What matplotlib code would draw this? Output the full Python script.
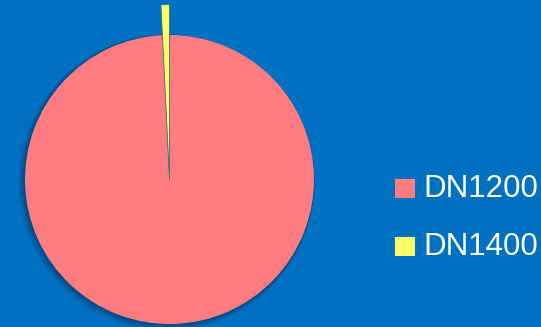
import matplotlib
matplotlib.use("Agg")
import matplotlib.pyplot as plt
from matplotlib import font_manager
from matplotlib.patches import Circle, Rectangle

# pipe length share by nominal diameter
labels = ["DN1200", "DN1400"]
values = [99.22, 0.78]
colors = ["#FF7C80", "#FFFF66"]
bg = "#0070C0"

# narrow sans if available, otherwise regular Liberation Sans a bit smaller
names = {f.name for f in font_manager.fontManager.ttflist}
if "Liberation Sans Narrow" in names:
    fam, fsize = "Liberation Sans Narrow", 26
else:
    fam, fsize = "Liberation Sans", 22.5

W, H = 541, 327
fig = plt.figure(figsize=(W / 100, H / 100), dpi=100)
fig.patch.set_facecolor(bg)

# pie centre and radius in pixels
cx, cy, r = 169.5, H - 179.5, 144.5
half = 1.25 * r
ax = fig.add_axes([(cx - half) / W, (cy - half) / H, 2 * half / W, 2 * half / H])
ax.set_aspect("equal")
ax.axis("off")

# soft shadow around the pie
for i in range(1, 6):
    ax.add_patch(Circle((-0.004 * i, -0.004 * i), 1 + 0.005 * i, color="#002850",
                        alpha=0.12, lw=0, zorder=0))

wedges, _ = ax.pie(values, colors=colors, startangle=90, counterclock=False,
                   radius=1.0, wedgeprops=dict(linewidth=0))
for w in wedges:
    w.set_zorder(2)
# small slice sticks out past the rim
wedges[1].set_radius(1.21)
wedges[1].set_edgecolor("#3A6A90")
wedges[1].set_linewidth(0.6)
ax.set_xlim(-1.25, 1.25)
ax.set_ylim(-1.25, 1.25)

# legend
leg_y = [H - 188.5, H - 246.5]
for lab, col, y in zip(labels, colors, leg_y):
    fig.patches.append(Rectangle((395 / W, (y - 9.5) / H), 20 / W, 19 / H,
                                 transform=fig.transFigure, facecolor=col, edgecolor="none"))
    fig.text(423 / W, (y - 0.5) / H, lab, color="white", fontsize=fsize, family=fam,
             ha="left", va="center")

fig.savefig("out.png", dpi=100, facecolor=bg)
